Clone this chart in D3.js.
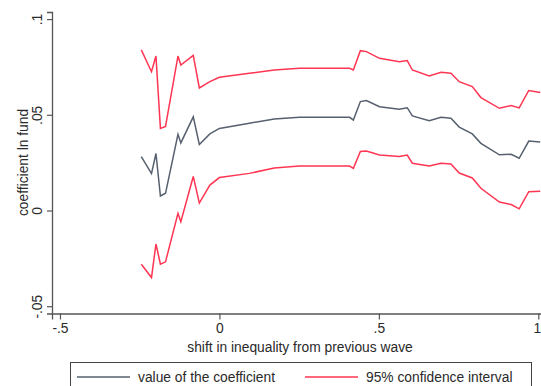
<!DOCTYPE html>
<html>
<head>
<meta charset="utf-8">
<script src="https://cdn.jsdelivr.net/npm/d3@7"></script>
<style>
  body { margin: 0; background: #fff; }
  text { font-family: "Liberation Sans", Arial, sans-serif; fill: #2a2a2a; }
</style>
</head>
<body>
<div id="chart"></div>
<script>
// shift in inequality (x) and estimated coefficient with its 95% CI
const shift = [-0.245, -0.213, -0.199, -0.185, -0.169, -0.130, -0.121, -0.082, -0.063, -0.030,
    0, 0.094, 0.172, 0.251, 0.408, 0.420, 0.442, 0.461, 0.502, 0.564,
    0.589, 0.605, 0.658, 0.695, 0.726, 0.752, 0.793, 0.820, 0.878, 0.915,
    0.940, 0.970, 1.006];
const coef = [0.0281, 0.0193, 0.0298, 0.0076, 0.0090, 0.0398, 0.0353, 0.0489, 0.0345, 0.0400,
    0.0429, 0.0456, 0.0478, 0.0487, 0.0487, 0.0473, 0.0569, 0.0574, 0.0542, 0.0529,
    0.0537, 0.0494, 0.0469, 0.0487, 0.0482, 0.0436, 0.0400, 0.0351, 0.0291, 0.0294,
    0.0273, 0.0363, 0.0358];
const upper = [0.0839, 0.0725, 0.0807, 0.0429, 0.0439, 0.0807, 0.0760, 0.0810, 0.0640, 0.0673,
    0.0696, 0.0717, 0.0734, 0.0743, 0.0743, 0.0734, 0.0835, 0.0830, 0.0795, 0.0777,
    0.0783, 0.0734, 0.0703, 0.0722, 0.0717, 0.0673, 0.0647, 0.0590, 0.0534, 0.0549,
    0.0536, 0.0627, 0.0617];
const lower = [-0.0281, -0.0350, -0.0175, -0.0280, -0.0268, -0.0015, -0.0059, 0.0178, 0.0039, 0.0133,
    0.0172, 0.0194, 0.0222, 0.0232, 0.0232, 0.0220, 0.0308, 0.0311, 0.0290, 0.0282,
    0.0290, 0.0247, 0.0232, 0.0247, 0.0243, 0.0196, 0.0170, 0.0116, 0.0044, 0.0031,
    0.0009, 0.0098, 0.0100];

const xTicks = [-0.5, 0, 0.5, 1];
const yTicks = [-0.05, 0, 0.05, 0.1];
// Stata style: no leading zero, plain hyphen
const tickLabel = d => String(d).replace(/^(-?)0\./, "$1.");

const width = 541;
const height = 386;

const coefColor = "#56606e";
const ciColor = "#ff3552";
const axisColor = "#555";

const svg = d3.select("#chart")
    .append("svg")
    .attr("width", width)
    .attr("height", height);

// scales
const xScale = d3.scaleLinear()
    .domain([-0.525, 1.01])
    .range([52, 541.5]);

const yScale = d3.scaleLinear()
    .domain([-0.0538, 0.1037])
    .range([313.5, 12]);

// y axis, labels turned upright like Stata
const yAxis = svg.append("g")
    .attr("transform", "translate(52,0)")
    .call(d3.axisLeft(yScale).tickValues(yTicks).tickFormat(tickLabel).tickSizeOuter(0).tickSize(5));
yAxis.select(".domain").attr("stroke", axisColor).attr("stroke-width", 1.3);
yAxis.selectAll(".tick line").attr("stroke", axisColor).attr("stroke-width", 1.2);
yAxis.selectAll(".tick text")
    .attr("font-size", 13.8)
    .attr("text-anchor", "middle")
    .attr("dy", null)
    .attr("x", null)
    .attr("transform", "translate(-10,0) rotate(-90)")
    .attr("font-family", "Liberation Sans, Arial, sans-serif")
    .attr("fill", "#2a2a2a");

// x axis
const xAxis = svg.append("g")
    .attr("transform", "translate(0,313.5)")
    .call(d3.axisBottom(xScale).tickValues(xTicks).tickFormat(tickLabel).tickSizeOuter(0).tickSize(6));
xAxis.select(".domain").attr("stroke", axisColor).attr("stroke-width", 1.3);
xAxis.selectAll(".tick line").attr("stroke", axisColor).attr("stroke-width", 1.2);
xAxis.selectAll(".tick text")
    .attr("font-size", 13.8)
    .attr("y", 10)
    .attr("x", d => d === 1 ? -1.5 : 0)   // last label sits on the right edge
    .attr("font-family", "Liberation Sans, Arial, sans-serif")
    .attr("fill", "#2a2a2a");

// axis titles
svg.append("text")
    .attr("x", 300)
    .attr("y", 352)
    .attr("text-anchor", "middle")
    .attr("font-size", 13.8)
    .text("shift in inequality from previous wave");

svg.append("text")
    .attr("transform", "translate(28,162.5) rotate(-90)")
    .attr("text-anchor", "middle")
    .attr("font-size", 13.8)
    .text("coefficient ln fund");

// lines
const rows = shift.map((x, i) => ({ x: x, coef: coef[i], upper: upper[i], lower: lower[i] }));

const lineFor = key => d3.line()
    .x(d => xScale(d.x))
    .y(d => yScale(d[key]));

svg.append("path")
    .datum(rows)
    .attr("fill", "none")
    .attr("stroke", ciColor)
    .attr("stroke-width", 1.5)
    .attr("d", lineFor("upper"));

svg.append("path")
    .datum(rows)
    .attr("fill", "none")
    .attr("stroke", ciColor)
    .attr("stroke-width", 1.5)
    .attr("d", lineFor("lower"));

svg.append("path")
    .datum(rows)
    .attr("fill", "none")
    .attr("stroke", coefColor)
    .attr("stroke-width", 1.5)
    .attr("d", lineFor("coef"));

// legend (box runs off the bottom edge)
svg.append("rect")
    .attr("x", 70.5)
    .attr("y", 362.5)
    .attr("width", 461)
    .attr("height", 40)
    .attr("fill", "#fff")
    .attr("stroke", "#444")
    .attr("stroke-width", 1);

const legend = [
    { label: "value of the coefficient", color: coefColor, x: 77 },
    { label: "95% confidence interval", color: ciColor, x: 305 }
];

const item = svg.selectAll(".legend-item")
    .data(legend)
    .join("g")
    .attr("class", "legend-item")
    .attr("transform", d => `translate(${d.x},377)`);

item.append("line")
    .attr("x1", 0)
    .attr("x2", 53)
    .attr("stroke", d => d.color)
    .attr("stroke-width", 1.5);

item.append("text")
    .attr("x", 61)
    .attr("y", 5)
    .attr("font-size", 13.8)
    .text(d => d.label);
</script>
</body>
</html>
